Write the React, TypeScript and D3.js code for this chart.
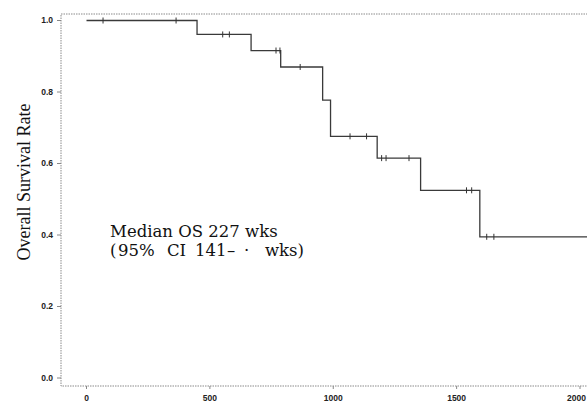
import React from 'react';
import * as d3 from 'd3';

// Kaplan-Meier overall survival (weeks)
const eventTimes = [448, 667, 787, 957, 989, 1178, 1354, 1594];
const survivalAfter = [0.961, 0.916, 0.870, 0.777, 0.676, 0.615, 0.525, 0.395];
const censorTimes = [67, 363, 552, 579, 768, 784, 866, 1068, 1135, 1196, 1214, 1307, 1540, 1561, 1622, 1651];
const followUpEnd = 2100;

const xTicks = [0, 500, 1000, 1500, 2000];
const yTicks = [0, 0.2, 0.4, 0.6, 0.8, 1.0];

const W = 587;
const H = 403;

export default function App() {
  const x = d3.scaleLinear().domain([0, 2000]).range([86.5, 580]);
  const y = d3.scaleLinear().domain([0, 1]).range([378, 20.5]);

  const frame = { left: 61, top: 14, right: 604, bottom: 386 };

  // step function points
  const pts: [number, number][] = [[0, 1]];
  eventTimes.forEach((t, i) => pts.push([t, survivalAfter[i]]));
  pts.push([followUpEnd, survivalAfter[survivalAfter.length - 1]]);

  const line = d3.line<[number, number]>()
    .x(d => x(d[0]))
    .y(d => y(d[1]))
    .curve(d3.curveStepAfter);

  const survAt = (t: number) => {
    let s = 1;
    eventTimes.forEach((e, i) => { if (e <= t) s = survivalAfter[i]; });
    return s;
  };

  const tickFont = '"Liberation Sans", Arial, sans-serif';
  const serif = '"DejaVu Serif", serif';

  return (
    <svg width={W} height={H} style={{ position: 'absolute', left: 0, top: 0, background: '#fff' }}>
      {/* frame */}
      <rect x={frame.left} y={frame.top} width={frame.right - frame.left} height={frame.bottom - frame.top}
        fill="none" stroke="#8a8a8a" strokeWidth={1} strokeDasharray="1.5,1" />

      {/* y axis ticks */}
      {yTicks.map(v => (
        <g key={v}>
          <line x1={frame.left - 4} x2={frame.left} y1={y(v)} y2={y(v)} stroke="#888" strokeWidth={1} />
          <text x={frame.left - 8} y={y(v)} dy="0.35em" textAnchor="end" fontFamily={tickFont}
            fontWeight="bold" fontSize={8.5} fill="#222">{v.toFixed(1)}</text>
        </g>
      ))}

      {/* x axis ticks */}
      {xTicks.map(v => (
        <g key={v}>
          <line x1={x(v)} x2={x(v)} y1={frame.bottom} y2={frame.bottom + 3} stroke="#888" strokeWidth={1} />
          <text x={x(v)} y={400.5} textAnchor={v === 2000 ? 'end' : 'middle'} dx={v === 2000 ? 6 : 0}
            fontFamily={tickFont} fontWeight="bold" fontSize={8.5} fill="#222">{v}</text>
        </g>
      ))}

      {/* y title */}
      <text transform={`translate(30,${182}) rotate(-90)`} textAnchor="middle"
        fontFamily='"Liberation Serif", "Times New Roman", serif' fontSize={18} fill="#111">
        Overall Survival Rate
      </text>

      {/* survival curve */}
      <path d={line(pts) || ''} fill="none" stroke="#3a3a3a" strokeWidth={1.3} />

      {/* censor marks */}
      {censorTimes.map((t, i) => (
        <line key={i} x1={x(t)} x2={x(t)} y1={y(survAt(t)) - 3} y2={y(survAt(t)) + 3}
          stroke="#333" strokeWidth={1} />
      ))}

      {/* median annotation */}
      <text x={110} y={237} fontFamily={serif} fontSize={16.5} fill="#111">Median OS 227 wks</text>
      <text y={256} fontFamily={serif} fontSize={16.5} fill="#111">
        <tspan x={110}>(</tspan>
        <tspan x={118}>95%</tspan>
        <tspan x={167}>CI</tspan>
        <tspan x={195}>141</tspan>
        <tspan x={227}>–</tspan>
        <tspan x={244}>·</tspan>
        <tspan x={265}>wks)</tspan>
      </text>
    </svg>
  );
}
